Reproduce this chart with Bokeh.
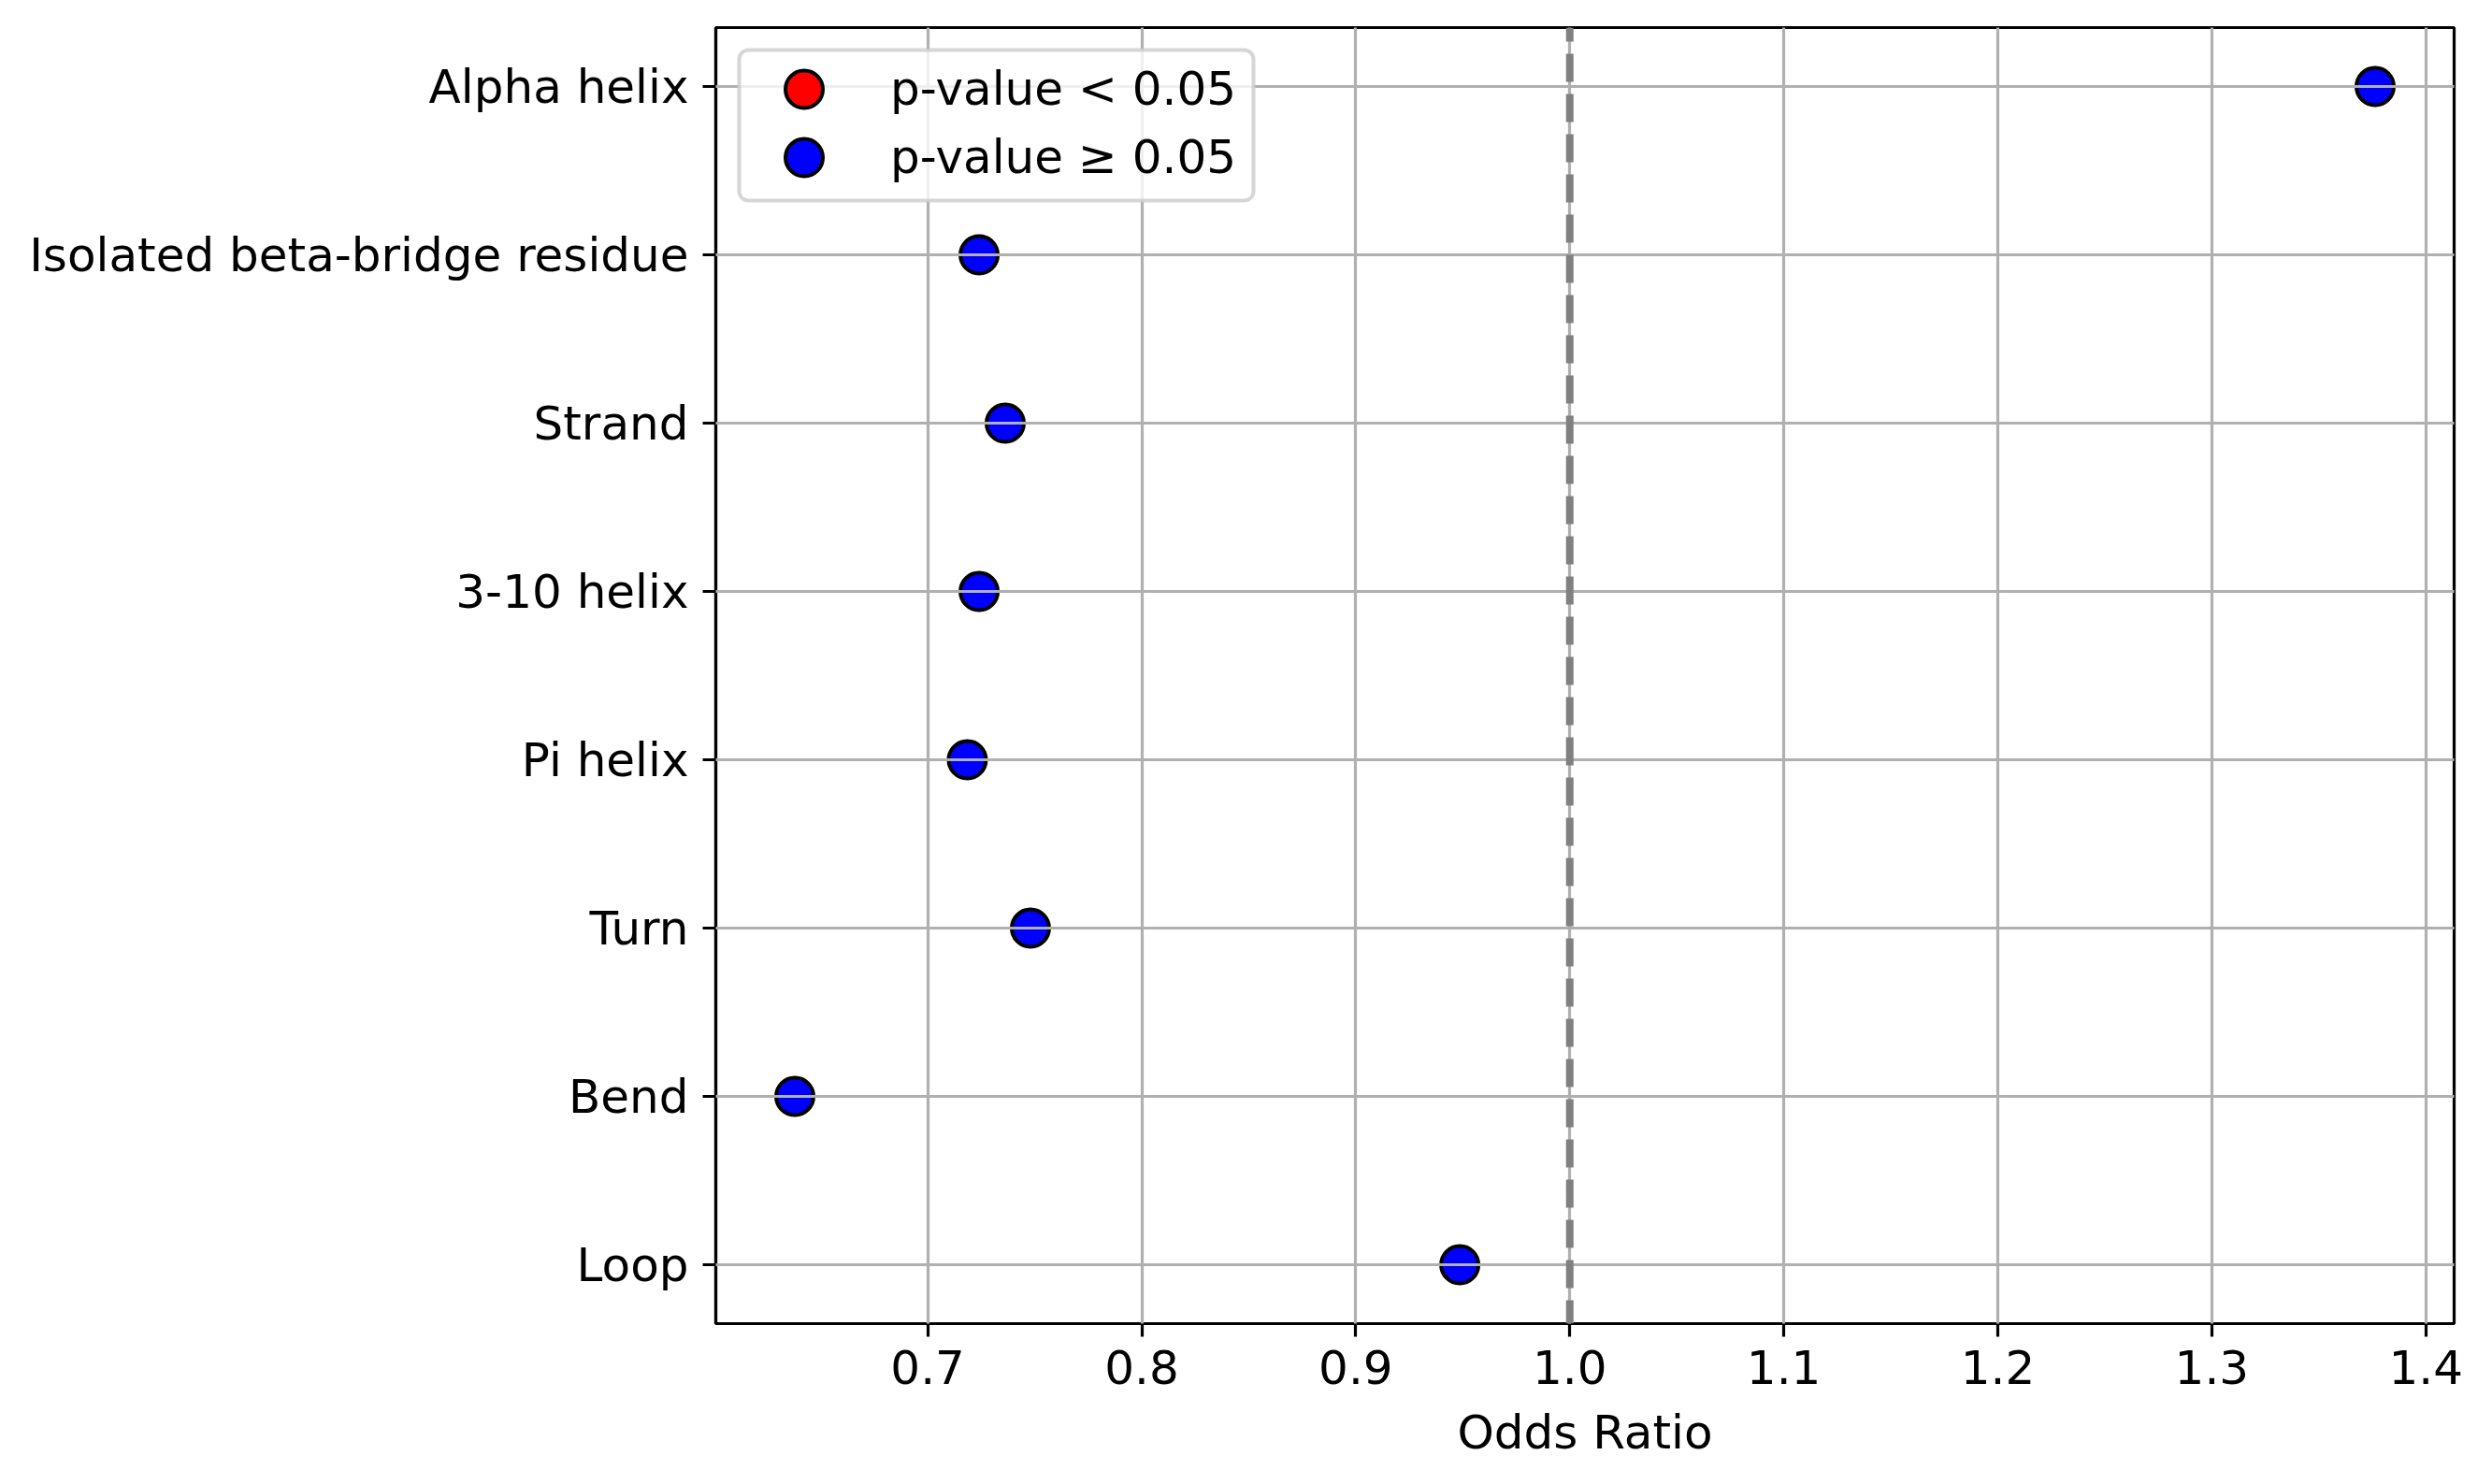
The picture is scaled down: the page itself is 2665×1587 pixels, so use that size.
from bokeh.plotting import figure
from bokeh.models import (ColumnDataSource, Range1d, PrintfTickFormatter,
                          Span, Legend, LegendItem, CDSView, BooleanFilter,
                          BoxAnnotation)
from bokeh.embed import file_html
from bokeh.resources import INLINE

# ---------------- data ----------------
categories = ["Loop", "Bend", "Turn", "Pi helix", "3-10 helix", "Strand",
              "Isolated beta-bridge residue", "Alpha helix"]
odds_ratio = [0.9486, 0.6379, 0.7480, 0.7185, 0.7240, 0.7362, 0.7240, 1.3763]
significant = [False, False, False, False, False, False, False, False]
x_ticks = [0.7, 0.8, 0.9, 1.0, 1.1, 1.2, 1.3, 1.4]
legend_labels = ["p-value < 0.05", "p-value \u2265 0.05"]
reference_or = 1.0
x_label = "Odds Ratio"

# ---------------- style ----------------
FONT = "DejaVu Sans"
TXT = "50px"
SIG_COLOR, NON_COLOR = "#ff0000", "#0000ff"
W, H = 2660, 1585
MB_L, MB_T = 765, 29
FRAME_W, FRAME_H = 1859, 1386
MB_R = W - MB_L - FRAME_W
MB_B = H - MB_T - FRAME_H

positions = list(range(len(categories)))
source = ColumnDataSource(dict(x=odds_ratio, y=positions, sig=significant))
view_sig = CDSView(filter=BooleanFilter(booleans=list(significant)))
view_non = CDSView(filter=BooleanFilter(booleans=[not s for s in significant]))

xmin, xmax = min(odds_ratio), max(odds_ratio)
xpad = 0.05 * (xmax - xmin)
ypad = 0.05 * (len(categories) - 1)

p = figure(width=W, height=H,
           x_range=Range1d(xmin - xpad, xmax + xpad),
           y_range=Range1d(-ypad, len(categories) - 1 + ypad),
           output_backend="svg", toolbar_location=None,
           min_border_left=MB_L, min_border_right=MB_R,
           min_border_top=MB_T, min_border_bottom=MB_B,
           background_fill_color="white", border_fill_color="white")

p.outline_line_color = "black"
p.outline_line_width = 3.2
p.outline_line_alpha = 1.0

# grids on top of markers (as in the reference)
for g in (p.xgrid, p.ygrid):
    g.grid_line_color = "#b0b0b0"
    g.grid_line_width = 3.2
    g.level = "annotation"

marker_style = dict(size=40, line_color="black", line_width=4)
r_sig = p.scatter("x", "y", source=source, view=view_sig,
                  fill_color=SIG_COLOR, **marker_style)
r_non = p.scatter("x", "y", source=source, view=view_non,
                  fill_color=NON_COLOR, **marker_style)
# hidden proxy so the legend can show the (unused) red category swatch
r_sig_proxy = p.scatter("x", "y", source=source, visible=False,
                        fill_color=SIG_COLOR, **marker_style)

span = Span(location=reference_or, dimension="height", line_color="#808080",
            line_width=8, line_dash="30 13", line_dash_offset=15,
            level="annotation")
p.add_layout(span)

# axes
for ax in (p.xaxis, p.yaxis):
    ax.axis_line_color = "black"
    ax.axis_line_width = 3.2
    ax.major_tick_line_color = "black"
    ax.major_tick_line_width = 3.2
    ax.major_tick_out = 14
    ax.major_tick_in = 0
    ax.minor_tick_out = 0
    ax.minor_tick_in = 0
    ax.major_label_text_font = FONT
    ax.major_label_text_font_size = TXT
    ax.major_label_text_color = "black"

p.xaxis.ticker = x_ticks
p.xaxis.formatter = PrintfTickFormatter(format="%.1f")
p.xaxis.major_label_standoff = 14
p.xaxis.axis_label = x_label
p.xaxis.axis_label_text_font = FONT
p.xaxis.axis_label_text_font_size = TXT
p.xaxis.axis_label_text_font_style = "normal"
p.xaxis.axis_label_text_color = "black"
p.xaxis.axis_label_standoff = 20

p.yaxis.ticker = positions
p.yaxis.major_label_overrides = {i: c for i, c in enumerate(categories)}
p.yaxis.major_label_standoff = 15

# legend frame (screen units inside the plot frame, y measured from bottom)
legend_box = BoxAnnotation(left=25, right=575, top=FRAME_H - 24, bottom=FRAME_H - 185,
                           left_units="screen", right_units="screen",
                           top_units="screen", bottom_units="screen",
                           fill_color="white", fill_alpha=0.8,
                           line_color="#cccccc", line_alpha=0.8, line_width=4,
                           border_radius=10, level="annotation")
p.add_layout(legend_box)

GH, GW = 100, 139
centers_from_top = [65.5, 138.5]
for label, rends, cy in zip(legend_labels, [[r_sig, r_sig_proxy], [r_non]],
                            centers_from_top):
    leg = Legend(
        items=[LegendItem(label=label, renderers=rends)],
        location=(25, FRAME_H - (cy + GH / 2)),
        glyph_width=GW, glyph_height=GH, spacing=0, padding=0, margin=0,
        label_standoff=23, click_policy="none",
        label_text_font=FONT, label_text_font_size=TXT, label_text_color="black",
        border_line_alpha=0, background_fill_alpha=0)
    p.add_layout(leg)

open("out.html", "w").write(file_html(p, INLINE))
